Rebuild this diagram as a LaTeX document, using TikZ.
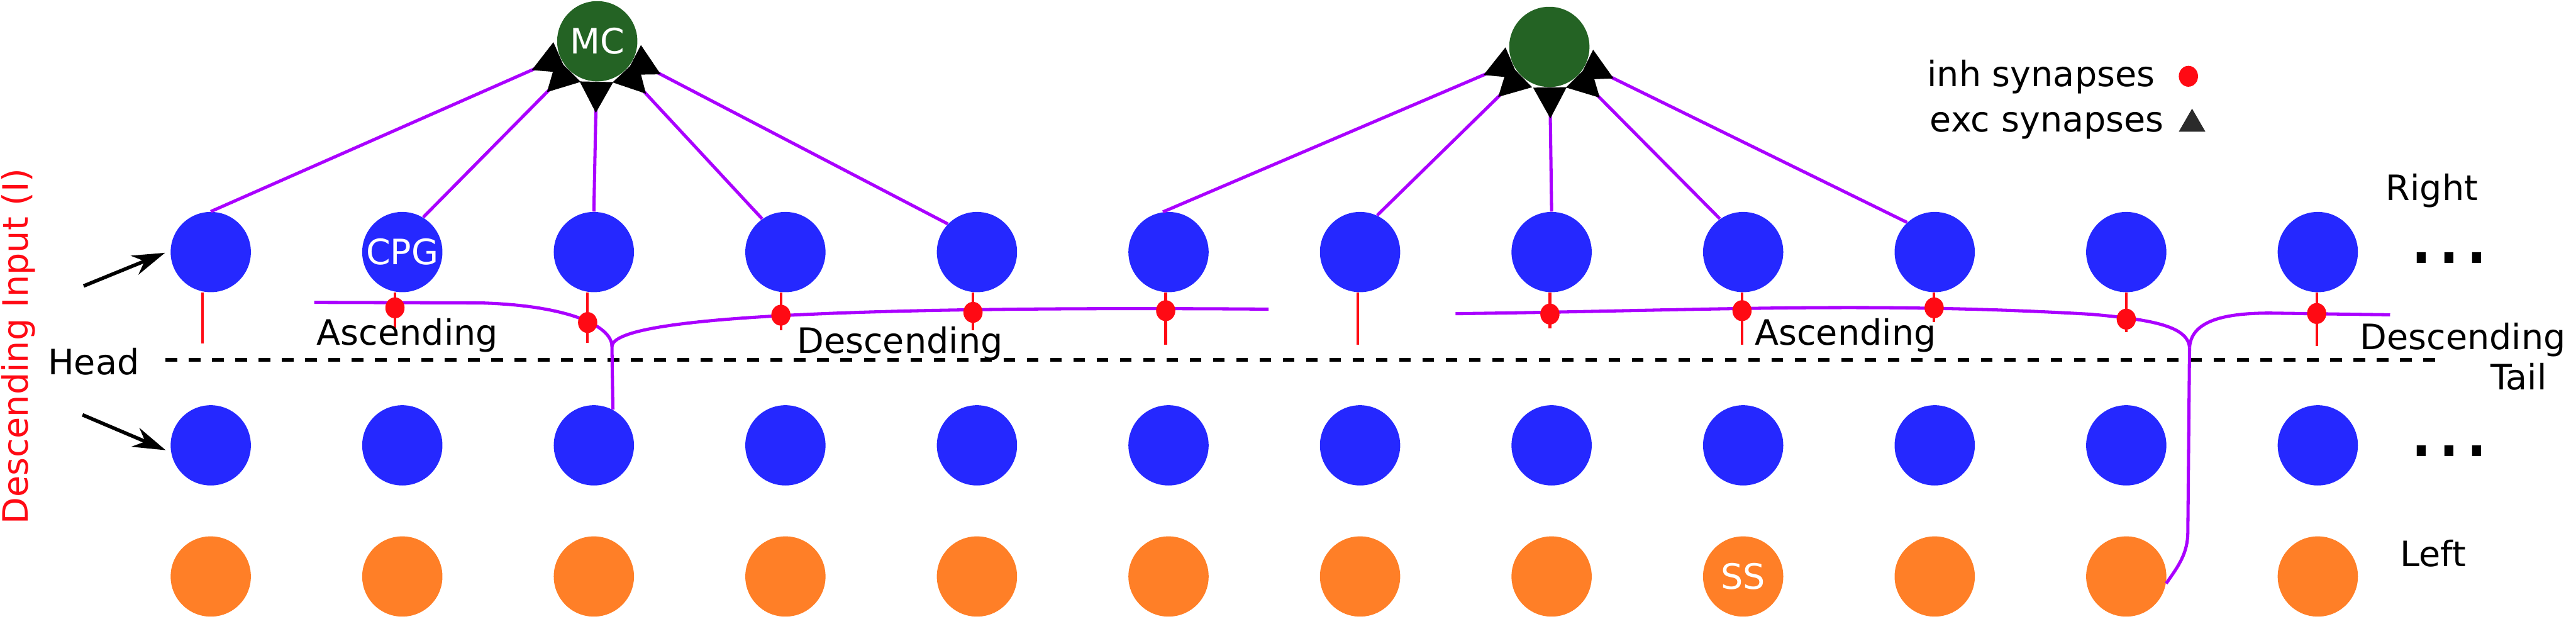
\documentclass[tikz,border=0pt]{standalone}
\usepackage{fontspec}
\setmainfont{DejaVu Sans}
\usetikzlibrary{arrows.meta, shapes.geometric, calc}

\definecolor{cellblue}{RGB}{37,40,255}
\definecolor{mcgreen}{RGB}{36,99,36}
\definecolor{ssorange}{RGB}{255,127,39}
\definecolor{axonpurple}{RGB}{170,0,255}
\definecolor{inhred}{RGB}{255,10,20}
\definecolor{keygray}{RGB}{43,43,43}

\newcommand{\lblfont}{\fontsize{17.6pt}{21pt}\selectfont}

\begin{document}
\begin{tikzpicture}[
		neuron/.style={circle, minimum size=1.42cm, inner sep=0pt, text=white, font=\lblfont},
		cpg/.style={neuron, fill=cellblue},
		sens/.style={neuron, fill=ssorange},
		mc/.style={neuron, fill=mcgreen},
		synapse/.style={ellipse, fill=inhred, minimum width=0.34cm, minimum height=0.37cm, inner sep=0pt},
		inhline/.style={inhred, line width=1.3pt},
		axon/.style={axonpurple, line width=1.6pt},
		exc/.style={axon, -{Triangle[length=0.55cm, width=0.58cm, reversed, color=black]}},
		lbl/.style={anchor=base west, inner sep=0pt, font=\lblfont},
		more/.style={anchor=base west, inner sep=0pt, text height=0.25cm, text depth=0pt, font=\fontsize{43.8pt}{50pt}\selectfont},
		midline/.style={line width=2pt, dash pattern=on 5.86pt off 5.86pt},
		input/.style={line width=1.8pt, shorten >=0.1cm, -{Stealth[length=0.58cm, width=0.36cm]}}
	]
	\useasboundingbox (0,0) rectangle (45.59,10.95);
	
	% Draw Neurons (right CPG, left CPG, sensory)
	\foreach \i in {1,...,12} {
		\pgfmathsetmacro{\x}{3.73+3.39*(\i-1)}
		\node[cpg] (r\i) at (\x,6.49) {\ifnum\i=2 CPG\fi};
		\node[cpg] (l\i) at (\x,3.07) {};
		\node[sens] (s\i) at (\x,0.75) {\ifnum\i=9 SS\fi};
	}
	\node[mc] (mc1) at (10.57,10.22) {MC};
	\node[mc] (mc2) at (27.42,10.12) {};
	
	% Draw Excitatory Projections to MC
	\foreach \c/\a in {1/90,2/59,3/90,4/125,5/136}
		\draw[exc] (r\c.\a) -- (mc1);
	\foreach \c/\a in {6/98,7/65,8/90,9/125,10/133}
		\draw[exc] (r\c.\a) -- (mc2);
	
	% Draw Midline
	\coordinate (head) at (2.93,4.58);
	\coordinate (tail) at (43.18,4.58);
	\draw[midline] (head) -- (tail);
	\node[lbl] (headlbl) at (0.84,4.32) {Head};
	\node[lbl] (taillbl) at (44.07,4.05) {Tail};
	
	% Draw Inhibitory Dendrites
	\foreach \c/\dx/\len in {1/-0.15/0.90, 2/-0.13/0.62, 3/-0.11/0.89, 4/-0.08/0.67, 5/-0.07/0.67, 6/-0.05/0.92, 7/-0.04/0.92, 8/-0.03/0.63, 9/-0.02/0.92, 10/-0.01/0.52, 11/0/0.70, 12/-0.02/0.94}
		\draw[inhline] ([xshift=\dx cm]r\c.south) -- ++(0,-\len);
	
	% Draw Commissural Axons
	\coordinate (ja) at (10.83,4.82);
	\coordinate (ascA) at (5.56,5.60);
	\coordinate (desA) at (22.45,5.48);
	\draw[axon] (l3.62) -- (ja) .. controls (10.83,5.20) and (10.00,5.55) .. (8.50,5.59) -- (ascA);
	\draw[axon] (ja) .. controls (10.85,5.20) and (13.00,5.55) .. (desA);
	
	\coordinate (jb) at (38.75,4.80);
	\coordinate (ascB) at (25.76,5.40);
	\coordinate (desB) at (42.30,5.38);
	\draw[axon] (s11.-10) to[out=55,in=-90] (38.72,1.55) -- (jb);
	\draw[axon] (jb) .. controls (38.72,5.20) and (38.00,5.30) .. (37.00,5.39) .. controls (33.00,5.62) and (30.00,5.45) .. (ascB);
	\draw[axon] (jb) .. controls (38.78,5.25) and (39.30,5.41) .. (40.17,5.41) -- (desB);
	
	% Draw Inhibitory Synapses
	\foreach \c/\dx/\d in {2/-0.13/0.27, 3/-0.11/0.53, 4/-0.08/0.40, 5/-0.07/0.35, 6/-0.05/0.32, 8/-0.03/0.38, 9/-0.02/0.32, 10/-0.01/0.27, 11/0/0.47, 12/-0.02/0.37}
		\node[synapse] (i\c) at ([xshift=\dx cm, yshift=-\d cm]r\c.south) {};
	
	\node[lbl] (ascAlbl) at (5.60,4.85) {Ascending};
	\node[lbl] (desAlbl) at (14.10,4.70) {Descending};
	\node[lbl] (ascBlbl) at (31.05,4.85) {Ascending};
	\node[lbl] (desBlbl) at (41.76,4.77) {Descending};
	
	% Draw Descending Input
	\coordinate (inR) at (1.48,5.89);
	\coordinate (inL) at (1.46,3.61);
	\draw[input] (inR) -- (r1.178);
	\draw[input] (inL) -- (l1.190);
	\node[rotate=90, anchor=base, inner sep=0pt, text=inhred, font=\lblfont] (inputlbl) at (0.50,4.82) {Descending Input (I)};
	
	% Side labels
	\node[lbl] (rightlbl) at (42.22,7.41) {Right};
	\node[lbl] (leftlbl) at (42.47,0.93) {Left};
	\node[more] (moreR) at (42.60,6.29) {...};
	\node[more] (moreL) at (42.60,2.87) {...};
	
	% Legend
	\node[lbl] (inhkey) at (34.10,9.42) {inh synapses};
	\node[synapse] (inhdot) at (38.73,9.60) {};
	\node[lbl] (exckey) at (34.15,8.62) {exc synapses};
	\node[regular polygon, regular polygon sides=3, fill=keygray, minimum size=0.543cm, inner sep=0pt] (excmark) at (38.795,8.756) {};
\end{tikzpicture}
\end{document}
